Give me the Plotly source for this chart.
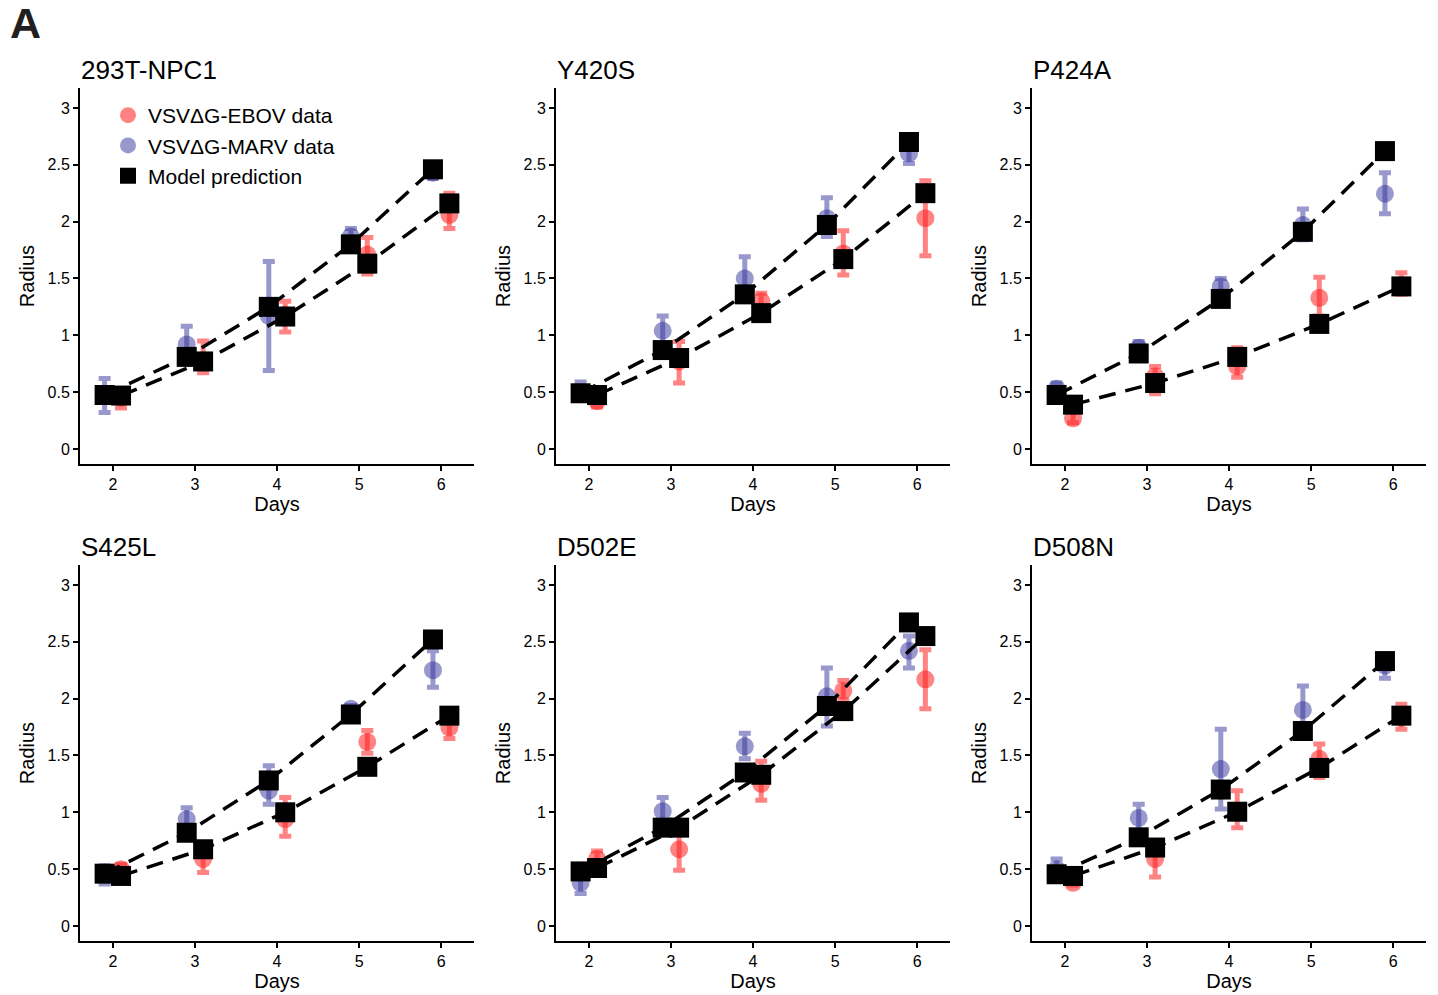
import plotly.graph_objects as go

days = [2, 3, 4, 5, 6]
panel_titles = ["293T-NPC1", "Y420S", "P424A", "S425L", "D502E", "D508N"]
y_ticks = [0, 0.5, 1, 1.5, 2, 2.5, 3]
y_tick_labels = ["0", "0.5", "1", "1.5", "2", "2.5", "3"]
x_ticks = [2, 3, 4, 5, 6]
x_tick_labels = ["2", "3", "4", "5", "6"]

ebov_mean = [
    [0.45, 0.78, 1.18, 1.71, 2.06],
    [0.42, 0.77, 1.30, 1.72, 2.03],
    [0.27, 0.64, 0.725, 1.33, 1.43],
    [0.50, 0.59, 0.94, 1.62, 1.745],
    [0.59, 0.675, 1.25, 2.07, 2.17],
    [0.38, 0.59, 1.01, 1.47, 1.83],
]
ebov_lo = [
    [0.36, 0.67, 1.03, 1.54, 1.94],
    [0.37, 0.58, 1.20, 1.53, 1.70],
    [0.23, 0.485, 0.63, 1.17, 1.36],
    [0.45, 0.47, 0.79, 1.52, 1.65],
    [0.52, 0.49, 1.105, 1.99, 1.91],
    [0.36, 0.43, 0.865, 1.305, 1.73],
]
ebov_hi = [
    [0.53, 0.95, 1.30, 1.86, 2.25],
    [0.50, 0.945, 1.37, 1.92, 2.36],
    [0.33, 0.725, 0.89, 1.51, 1.55],
    [0.54, 0.70, 1.13, 1.72, 1.82],
    [0.66, 0.86, 1.45, 2.16, 2.43],
    [0.45, 0.75, 1.19, 1.60, 1.95],
]
marv_mean = [
    [0.47, 0.92, 1.17, 1.87, 2.43],
    [0.50, 1.04, 1.50, 2.03, 2.60],
    [0.53, 0.89, 1.43, 1.97, 2.245],
    [0.47, 0.94, 1.19, 1.91, 2.25],
    [0.38, 1.01, 1.58, 2.02, 2.42],
    [0.50, 0.95, 1.38, 1.90, 2.29],
]
marv_lo = [
    [0.32, 0.75, 0.69, 1.78, 2.38],
    [0.44, 0.90, 1.32, 1.87, 2.51],
    [0.47, 0.82, 1.36, 1.84, 2.07],
    [0.37, 0.84, 1.07, 1.82, 2.10],
    [0.285, 0.88, 1.47, 1.76, 2.27],
    [0.42, 0.82, 1.03, 1.68, 2.18],
]
marv_hi = [
    [0.62, 1.08, 1.65, 1.94, 2.48],
    [0.59, 1.17, 1.69, 2.21, 2.68],
    [0.58, 0.945, 1.50, 2.11, 2.43],
    [0.53, 1.04, 1.41, 1.94, 2.42],
    [0.48, 1.13, 1.695, 2.27, 2.55],
    [0.59, 1.07, 1.73, 2.11, 2.33],
]
ebov_model = [
    [0.47, 0.77, 1.165, 1.63, 2.16],
    [0.475, 0.80, 1.195, 1.67, 2.25],
    [0.39, 0.58, 0.81, 1.10, 1.43],
    [0.44, 0.675, 1.00, 1.40, 1.85],
    [0.51, 0.865, 1.33, 1.89, 2.55],
    [0.44, 0.69, 1.005, 1.39, 1.85],
]
marv_model = [
    [0.475, 0.81, 1.25, 1.80, 2.46],
    [0.49, 0.87, 1.36, 1.97, 2.70],
    [0.475, 0.84, 1.32, 1.91, 2.62],
    [0.46, 0.82, 1.28, 1.86, 2.52],
    [0.48, 0.865, 1.35, 1.935, 2.67],
    [0.455, 0.78, 1.20, 1.715, 2.33],
]

W, H = 1438, 995
FONT = "Liberation Sans, Arial, Helvetica, sans-serif"
RED = "rgba(255,30,30,0.55)"
BLUE = "rgba(50,50,155,0.5)"
DODGE = 0.1


def px_x(p):
    return p / W


def px_y(p):
    return 1 - p / H


x_dom_px = [(80, 474), (556, 950), (1032, 1426)]
y_dom_px = [(88, 464), (565, 941)]
title_y_px = [70, 547]

fig = go.Figure()
annotations = []

for i in range(6):
    r, c = divmod(i, 3)
    ax = "" if i == 0 else str(i + 1)
    xa, ya = "x" + ax, "y" + ax
    xm = [d - DODGE for d in days]
    xe = [d + DODGE for d in days]

    fig.add_trace(go.Scatter(
        x=xe, y=ebov_mean[i], mode="markers", xaxis=xa, yaxis=ya,
        name="VSVΔG-EBOV data", legendgroup="ebov", showlegend=(i == 0),
        marker=dict(symbol="circle", size=18, color=RED),
        error_y=dict(type="data", symmetric=False,
                     array=[h - m for h, m in zip(ebov_hi[i], ebov_mean[i])],
                     arrayminus=[m - l for m, l in zip(ebov_mean[i], ebov_lo[i])],
                     color=RED, thickness=5, width=6),
    ))
    fig.add_trace(go.Scatter(
        x=xm, y=marv_mean[i], mode="markers", xaxis=xa, yaxis=ya,
        name="VSVΔG-MARV data", legendgroup="marv", showlegend=(i == 0),
        marker=dict(symbol="circle", size=18, color=BLUE),
        error_y=dict(type="data", symmetric=False,
                     array=[h - m for h, m in zip(marv_hi[i], marv_mean[i])],
                     arrayminus=[m - l for m, l in zip(marv_mean[i], marv_lo[i])],
                     color=BLUE, thickness=5, width=6),
    ))
    for xs, ys in ((xe, ebov_model[i]), (xm, marv_model[i])):
        fig.add_trace(go.Scatter(
            x=xs, y=ys, mode="lines", xaxis=xa, yaxis=ya, showlegend=False,
            line=dict(color="black", width=3.5, dash="17px,10px"),
            hoverinfo="skip",
        ))
    fig.add_trace(go.Scatter(
        x=xe + xm, y=ebov_model[i] + marv_model[i], mode="markers",
        xaxis=xa, yaxis=ya, name="Model prediction", legendgroup="model",
        showlegend=(i == 0),
        marker=dict(symbol="square", size=20, color="black"),
    ))

    x0, x1 = x_dom_px[c]
    y0, y1 = y_dom_px[r]
    common = dict(showline=True, linecolor="black", linewidth=2,
                  ticks="outside", ticklen=5, tickwidth=2, tickcolor="black",
                  showgrid=False, zeroline=False,
                  tickfont=dict(family=FONT, size=16, color="black"))
    fig.layout["xaxis" + ax] = dict(
        domain=[px_x(x0), px_x(x1)], anchor=ya, range=[1.6, 6.4],
        tickvals=x_ticks, ticktext=x_tick_labels,
        title=dict(text="Days", font=dict(family=FONT, size=20, color="black"), standoff=4),
        **common)
    fig.layout["yaxis" + ax] = dict(
        domain=[px_y(y1), px_y(y0)], anchor=xa, range=[-0.132, 3.175],
        tickvals=y_ticks, ticktext=y_tick_labels,
        title=dict(text="Radius", font=dict(family=FONT, size=20, color="black"), standoff=8),
        **common)
    annotations.append(dict(
        text=panel_titles[i], xref="paper", yref="paper",
        x=px_x(x0 - 1), y=px_y(title_y_px[r]), xanchor="left", yanchor="middle",
        showarrow=False, font=dict(family=FONT, size=26, color="black")))

annotations.append(dict(
    text="<b>A</b>", xref="paper", yref="paper", x=px_x(8), y=px_y(23),
    xanchor="left", yanchor="middle", showarrow=False,
    font=dict(family=FONT, size=43, color="#231f20")))

fig.update_layout(
    width=W, height=H,
    margin=dict(l=0, r=0, t=0, b=0),
    paper_bgcolor="white", plot_bgcolor="white",
    annotations=annotations,
    showlegend=True,
    legend=dict(x=px_x(108), y=px_y(95), xanchor="left", yanchor="top",
                bgcolor="rgba(0,0,0,0)", tracegroupgap=0,
                font=dict(family=FONT, size=21, color="black")),
)

# remove the browser's default 8px body margin so the figure fills the window
fig.write_html(
    "out.html",
    config={"displayModeBar": False},
    post_script="document.body.style.margin='0';document.body.style.overflow='hidden';",
)
